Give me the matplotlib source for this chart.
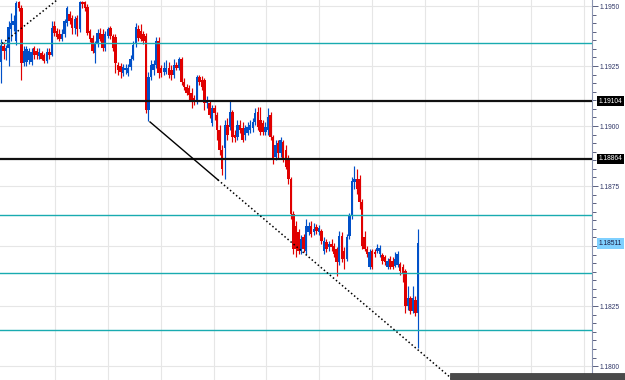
import numpy as np
import matplotlib
matplotlib.use('Agg')
from matplotlib import pyplot as plt
from matplotlib.patches import Rectangle
from matplotlib.ticker import MultipleLocator, AutoMinorLocator, FormatStrFormatter

# OHLC, one value per bar
opens = [
    1.19265, 1.19335, 1.19314, 1.19323, 1.19405, 1.19422, 1.19356, 1.19517, 1.19492, 1.19261,
    1.19265, 1.19273, 1.19265, 1.19323, 1.19314, 1.19290, 1.19306, 1.19294, 1.19269, 1.19310,
    1.19294, 1.19418, 1.19397, 1.19385, 1.19364, 1.19385, 1.19430, 1.19467, 1.19451, 1.19409,
    1.19451, 1.19405, 1.19517, 1.19517, 1.19496, 1.19397, 1.19368, 1.19306, 1.19343, 1.19389,
    1.19385, 1.19323, 1.19376, 1.19409, 1.19376, 1.19372, 1.19253, 1.19248, 1.19220, 1.19232,
    1.19220, 1.19244, 1.19281, 1.19343, 1.19405, 1.19397, 1.19385, 1.19376, 1.19067, 1.19203,
    1.19232, 1.19253, 1.19356, 1.19240, 1.19224, 1.19224, 1.19240, 1.19232, 1.19211, 1.19253,
    1.19240, 1.19281, 1.19182, 1.19162, 1.19158, 1.19137, 1.19116, 1.19100, 1.19203, 1.19191,
    1.19191, 1.19096, 1.19096, 1.19013, 1.19075, 1.19046, 1.18984, 1.18901, 1.18910, 1.19005,
    1.18996, 1.19058, 1.18963, 1.18955, 1.19005, 1.18992, 1.18963, 1.18972, 1.18984, 1.18992,
    1.19017, 1.19058, 1.19025, 1.19013, 1.18976, 1.18984, 1.19046, 1.18955, 1.18873, 1.18930,
    1.18889, 1.18935, 1.18901, 1.18868, 1.18778, 1.18633, 1.18583, 1.18559, 1.18480, 1.18538,
    1.18480, 1.18559, 1.18583, 1.18559, 1.18579, 1.18559, 1.18563, 1.18480, 1.18517, 1.18497,
    1.18509, 1.18501, 1.18488, 1.18435, 1.18542, 1.18480, 1.18447, 1.18542, 1.18625, 1.18765,
    1.18778, 1.18778, 1.18683, 1.18538, 1.18488, 1.18414, 1.18480, 1.18476, 1.18480, 1.18468,
    1.18464, 1.18455, 1.18414, 1.18447, 1.18439, 1.18418, 1.18422, 1.18427, 1.18414, 1.18394,
    1.18249, 1.18282, 1.18228, 1.18274, 1.18220,
]
highs = [
    1.19364, 1.19348, 1.19339, 1.19438, 1.19471, 1.19463, 1.19521, 1.19521, 1.19504, 1.19335,
    1.19335, 1.19327, 1.19327, 1.19335, 1.19327, 1.19323, 1.19314, 1.19306, 1.19323, 1.19323,
    1.19438, 1.19438, 1.19409, 1.19405, 1.19405, 1.19447, 1.19500, 1.19480, 1.19463, 1.19459,
    1.19463, 1.19521, 1.19521, 1.19521, 1.19509, 1.19405, 1.19381, 1.19356, 1.19405, 1.19409,
    1.19405, 1.19397, 1.19414, 1.19418, 1.19385, 1.19385, 1.19265, 1.19261, 1.19257, 1.19257,
    1.19257, 1.19294, 1.19356, 1.19430, 1.19422, 1.19426, 1.19397, 1.19389, 1.19224, 1.19273,
    1.19273, 1.19372, 1.19372, 1.19253, 1.19265, 1.19273, 1.19265, 1.19253, 1.19281, 1.19265,
    1.19286, 1.19286, 1.19199, 1.19174, 1.19170, 1.19158, 1.19129, 1.19211, 1.19211, 1.19207,
    1.19199, 1.19125, 1.19108, 1.19087, 1.19087, 1.19058, 1.19005, 1.18922, 1.19025, 1.19034,
    1.19108, 1.19067, 1.18984, 1.19025, 1.19025, 1.19017, 1.19005, 1.19017, 1.19025, 1.19034,
    1.19075, 1.19079, 1.19079, 1.19025, 1.19017, 1.19075, 1.19058, 1.18963, 1.18943, 1.18943,
    1.18955, 1.18943, 1.18922, 1.18881, 1.18786, 1.18645, 1.18604, 1.18571, 1.18546, 1.18550,
    1.18612, 1.18600, 1.18604, 1.18596, 1.18592, 1.18588, 1.18571, 1.18538, 1.18530, 1.18522,
    1.18530, 1.18513, 1.18497, 1.18563, 1.18559, 1.18497, 1.18550, 1.18637, 1.18786, 1.18835,
    1.18819, 1.18794, 1.18695, 1.18563, 1.18501, 1.18488, 1.18488, 1.18488, 1.18509, 1.18505,
    1.18472, 1.18464, 1.18451, 1.18460, 1.18455, 1.18476, 1.18480, 1.18435, 1.18427, 1.18406,
    1.18332, 1.18294, 1.18332, 1.18290, 1.18571,
]
lows = [
    1.19178, 1.19281, 1.19273, 1.19248, 1.19356, 1.19397, 1.19339, 1.19480, 1.19191, 1.19248,
    1.19248, 1.19257, 1.19253, 1.19281, 1.19281, 1.19281, 1.19273, 1.19261, 1.19261, 1.19281,
    1.19290, 1.19376, 1.19364, 1.19356, 1.19356, 1.19372, 1.19418, 1.19426, 1.19385, 1.19385,
    1.19376, 1.19393, 1.19492, 1.19480, 1.19381, 1.19352, 1.19306, 1.19261, 1.19331, 1.19356,
    1.19314, 1.19314, 1.19368, 1.19364, 1.19314, 1.19220, 1.19211, 1.19199, 1.19207, 1.19215,
    1.19207, 1.19232, 1.19273, 1.19331, 1.19356, 1.19356, 1.19343, 1.19054, 1.19021, 1.19191,
    1.19211, 1.19240, 1.19199, 1.19203, 1.19211, 1.19215, 1.19199, 1.19191, 1.19199, 1.19232,
    1.19232, 1.19170, 1.19149, 1.19129, 1.19108, 1.19075, 1.19087, 1.19091, 1.19170, 1.19149,
    1.19067, 1.19075, 1.19034, 1.19001, 1.19025, 1.18943, 1.18881, 1.18798, 1.18778, 1.18943,
    1.18984, 1.18935, 1.18935, 1.18943, 1.18972, 1.18935, 1.18943, 1.18963, 1.18972, 1.18976,
    1.19005, 1.18984, 1.18963, 1.18963, 1.18963, 1.18963, 1.18943, 1.18840, 1.18860, 1.18868,
    1.18873, 1.18852, 1.18819, 1.18757, 1.18612, 1.18468, 1.18455, 1.18468, 1.18468, 1.18476,
    1.18468, 1.18546, 1.18538, 1.18546, 1.18550, 1.18546, 1.18509, 1.18468, 1.18476, 1.18480,
    1.18480, 1.18455, 1.18377, 1.18422, 1.18435, 1.18406, 1.18439, 1.18530, 1.18612, 1.18736,
    1.18716, 1.18654, 1.18488, 1.18480, 1.18455, 1.18406, 1.18406, 1.18455, 1.18472, 1.18455,
    1.18427, 1.18422, 1.18406, 1.18406, 1.18406, 1.18414, 1.18414, 1.18381, 1.18352, 1.18220,
    1.18232, 1.18216, 1.18220, 1.18208, 1.18075,
]
closes = [
    1.19335, 1.19314, 1.19323, 1.19414, 1.19430, 1.19438, 1.19513, 1.19492, 1.19261, 1.19314,
    1.19319, 1.19314, 1.19310, 1.19294, 1.19294, 1.19310, 1.19281, 1.19269, 1.19310, 1.19294,
    1.19409, 1.19389, 1.19372, 1.19364, 1.19385, 1.19438, 1.19492, 1.19438, 1.19409, 1.19447,
    1.19405, 1.19517, 1.19509, 1.19492, 1.19389, 1.19364, 1.19314, 1.19343, 1.19389, 1.19364,
    1.19323, 1.19385, 1.19405, 1.19376, 1.19323, 1.19261, 1.19232, 1.19224, 1.19244, 1.19240,
    1.19240, 1.19281, 1.19339, 1.19414, 1.19368, 1.19364, 1.19356, 1.19067, 1.19203, 1.19253,
    1.19257, 1.19356, 1.19220, 1.19220, 1.19240, 1.19240, 1.19211, 1.19211, 1.19253, 1.19240,
    1.19281, 1.19182, 1.19162, 1.19137, 1.19129, 1.19108, 1.19100, 1.19203, 1.19182, 1.19162,
    1.19096, 1.19108, 1.19046, 1.19075, 1.19054, 1.18984, 1.18901, 1.18819, 1.19005, 1.18963,
    1.19058, 1.18955, 1.18951, 1.19005, 1.18984, 1.18943, 1.18992, 1.18996, 1.19005, 1.19017,
    1.19054, 1.18996, 1.18976, 1.18976, 1.18996, 1.19038, 1.18955, 1.18860, 1.18922, 1.18889,
    1.18943, 1.18868, 1.18831, 1.18778, 1.18633, 1.18488, 1.18488, 1.18480, 1.18530, 1.18488,
    1.18583, 1.18583, 1.18550, 1.18571, 1.18563, 1.18575, 1.18522, 1.18522, 1.18488, 1.18509,
    1.18497, 1.18468, 1.18435, 1.18542, 1.18447, 1.18447, 1.18538, 1.18625, 1.18769, 1.18778,
    1.18736, 1.18683, 1.18501, 1.18488, 1.18468, 1.18476, 1.18414, 1.18468, 1.18493, 1.18493,
    1.18439, 1.18435, 1.18439, 1.18414, 1.18414, 1.18447, 1.18468, 1.18394, 1.18385, 1.18249,
    1.18282, 1.18228, 1.18282, 1.18220, 1.18511,
]

# horizontal levels
teal_levels = [1.19345, 1.18630, 1.18387, 1.18150]
black_levels = [1.19104, 1.18864]
last_price = 1.18511

# trendlines: (bar index, price)
upper_trend_x = [-2, 30]
upper_trend_y = [1.19323, 1.19592]
lower_trend_x = [58.6, 85.3, 180]
lower_trend_y = [1.19017, 1.18776, 1.17923]

BULL = '#0050c8'
BEAR = '#e00000'

fig = plt.figure(figsize=(6.25, 3.8), dpi=100)
ax = fig.add_axes([0, 0, 591.7 / 625, 1])

o = np.array(opens)
h = np.array(highs)
l = np.array(lows)
c = np.array(closes)
idx = np.arange(len(o))
cols = np.where(c >= o, BULL, BEAR)

ax.vlines(idx, l, h, colors=cols, linewidth=0.85, zorder=3)
ax.bar(idx, np.maximum(np.abs(c - o), 0.00002), bottom=np.minimum(o, c),
       width=0.95, color=cols, linewidth=0, zorder=4)

for lv in teal_levels:
    ax.axhline(lv, color='#19abb0', linewidth=1.0, zorder=5)
for lv in black_levels:
    ax.axhline(lv, color='#111111', linewidth=1.6, zorder=5)

dots = (0, (1, 1.6))
ax.plot(upper_trend_x, upper_trend_y, color='black', linewidth=1.1, linestyle=dots, zorder=6)
ax.plot(lower_trend_x[:2], lower_trend_y[:2], color='black', linewidth=1.0, zorder=6)
ax.plot(lower_trend_x[1:], lower_trend_y[1:], color='black', linewidth=1.1, linestyle=dots, zorder=6)

ax.set_xlim(-0.39, 232.3)
ax.set_ylim(1.17942, 1.19525)

# grid
ax.set_xticks(np.arange(21.2, 232, 20.8))
ax.tick_params(axis='x', length=0, labelbottom=False)
ax.grid(True, color='#e6e6e6', linewidth=0.8)
ax.set_axisbelow(True)

# price scale on the right
ax.yaxis.tick_right()
ax.yaxis.set_major_locator(MultipleLocator(0.0025))
ax.yaxis.set_minor_locator(AutoMinorLocator(7))
ax.yaxis.set_major_formatter(FormatStrFormatter('%.4f'))
ax.tick_params(axis='y', which='major', length=4.2, width=0.7, color='#5a6080',
               labelsize=4.8, labelcolor='#2e3566', pad=1.5)
ax.tick_params(axis='y', which='minor', length=3.2, width=0.7, color='#5a6080')
for lab in ax.get_yticklabels():
    lab.set_fontfamily('Liberation Sans')

for s in ['left', 'top', 'bottom']:
    ax.spines[s].set_visible(False)
ax.spines['right'].set_color('#8a93b0')
ax.spines['right'].set_linewidth(0.8)

tr = ax.get_yaxis_transform()
for lv in black_levels:
    ax.text(1.012, lv, f'{lv:.5f}', transform=tr, ha='left', va='center',
            fontsize=4.8, family='Liberation Sans', color='white', zorder=10, clip_on=False,
            bbox=dict(boxstyle='square,pad=0.2', fc='black', ec='none'))
ax.text(1.012, last_price, f'{last_price:.5f}', transform=tr, ha='left', va='center',
        fontsize=4.8, family='Liberation Sans', color='#1a1a40', zorder=10, clip_on=False,
        bbox=dict(boxstyle='square,pad=0.3', fc='#7fd0ff', ec='none'))

# scroll bar at the bottom right
fig.patches.append(Rectangle((450 / 625, 0), 175 / 625, 7.3 / 380, transform=fig.transFigure,
                             fc='#4a4a4a', ec='#333333', linewidth=0.5, zorder=20))

fig.savefig('out.png', dpi=100)
